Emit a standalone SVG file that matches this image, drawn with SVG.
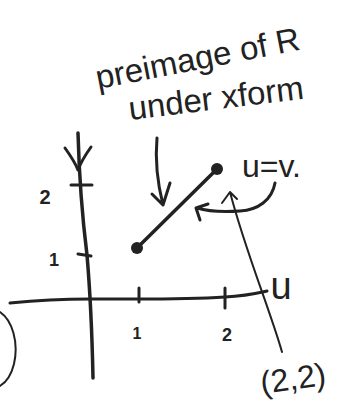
<svg xmlns="http://www.w3.org/2000/svg" width="339" height="404" viewBox="0 0 339 404">
<style>
.ink{fill:none;stroke:#222;stroke-linecap:round;stroke-linejoin:round}
.thick{stroke-width:3.5}
.mid{stroke-width:3}
.thin{stroke-width:2}
.t{font-family:"Liberation Sans",Arial,sans-serif;fill:#222}
.n{font-weight:bold}
</style>
<rect width="339" height="404" fill="#fff"/>
<g id="axes">
  <path class="ink thick" d="M78,133 C79,170 82,215 87,255 C90,290 92,330 93,378"/>
  <path class="ink mid" d="M65,148 C70,155 75,162 78,170 M91,147 C86,154 81,162 78,170"/>
  <path class="ink mid" d="M10,303 C40,300 70,299 90,299 C140,299 180,300 225,297 C245,296 258,293 267,291"/>
  <path class="ink mid" d="M71,185 L92,185 M78,254 L91,256 M139,288 L139,302 M225,288 L225,308"/>
  <text class="t n" x="45" y="204" font-size="20" text-anchor="middle">2</text>
  <text class="t n" x="54" y="266" font-size="18" text-anchor="middle">1</text>
  <text class="t n" x="137" y="339" font-size="16" text-anchor="middle">1</text>
  <text class="t n" x="227" y="341" font-size="18" text-anchor="middle">2</text>
  <text class="t" x="281" y="299" font-size="38" text-anchor="middle">u</text>
</g>
<g id="segment">
  <path class="ink thick" d="M137,248 L217,169"/>
  <circle cx="137" cy="248" r="6" fill="#222"/>
  <circle cx="217" cy="169" r="6" fill="#222"/>
</g>
<g id="label-preimage">
  <text class="t" font-size="33" transform="translate(98,89) rotate(-11)">preimage of R</text>
  <text class="t" font-size="33" transform="translate(130,120) rotate(-7)">under xform</text>
</g>
<g id="label-uv">
  <text class="t" x="242" y="177" font-size="32">u=v.</text>
</g>
<g id="label-22">
  <text class="t" font-size="32" transform="translate(262,394) rotate(-8)">(2,2)</text>
</g>
<g id="connectors">
  <path class="ink mid" d="M157,138 C155,160 158,185 163,205 M152,194 L163,205 L170,183"/>
  <path class="ink mid" d="M275,183 C272,200 258,210 240,211 C225,212 210,212 197,208 M200,220 L196,208 L208,204"/>
  <path class="ink thin" d="M282,352 C270,310 245,250 230,192 M222,203 L230,192 L237,199"/>
</g>
<g id="partial-circle">
  <path class="ink thin" d="M0,312 C12,320 19,342 14,364 C11,376 5,383 0,386"/>
</g>
</svg>
